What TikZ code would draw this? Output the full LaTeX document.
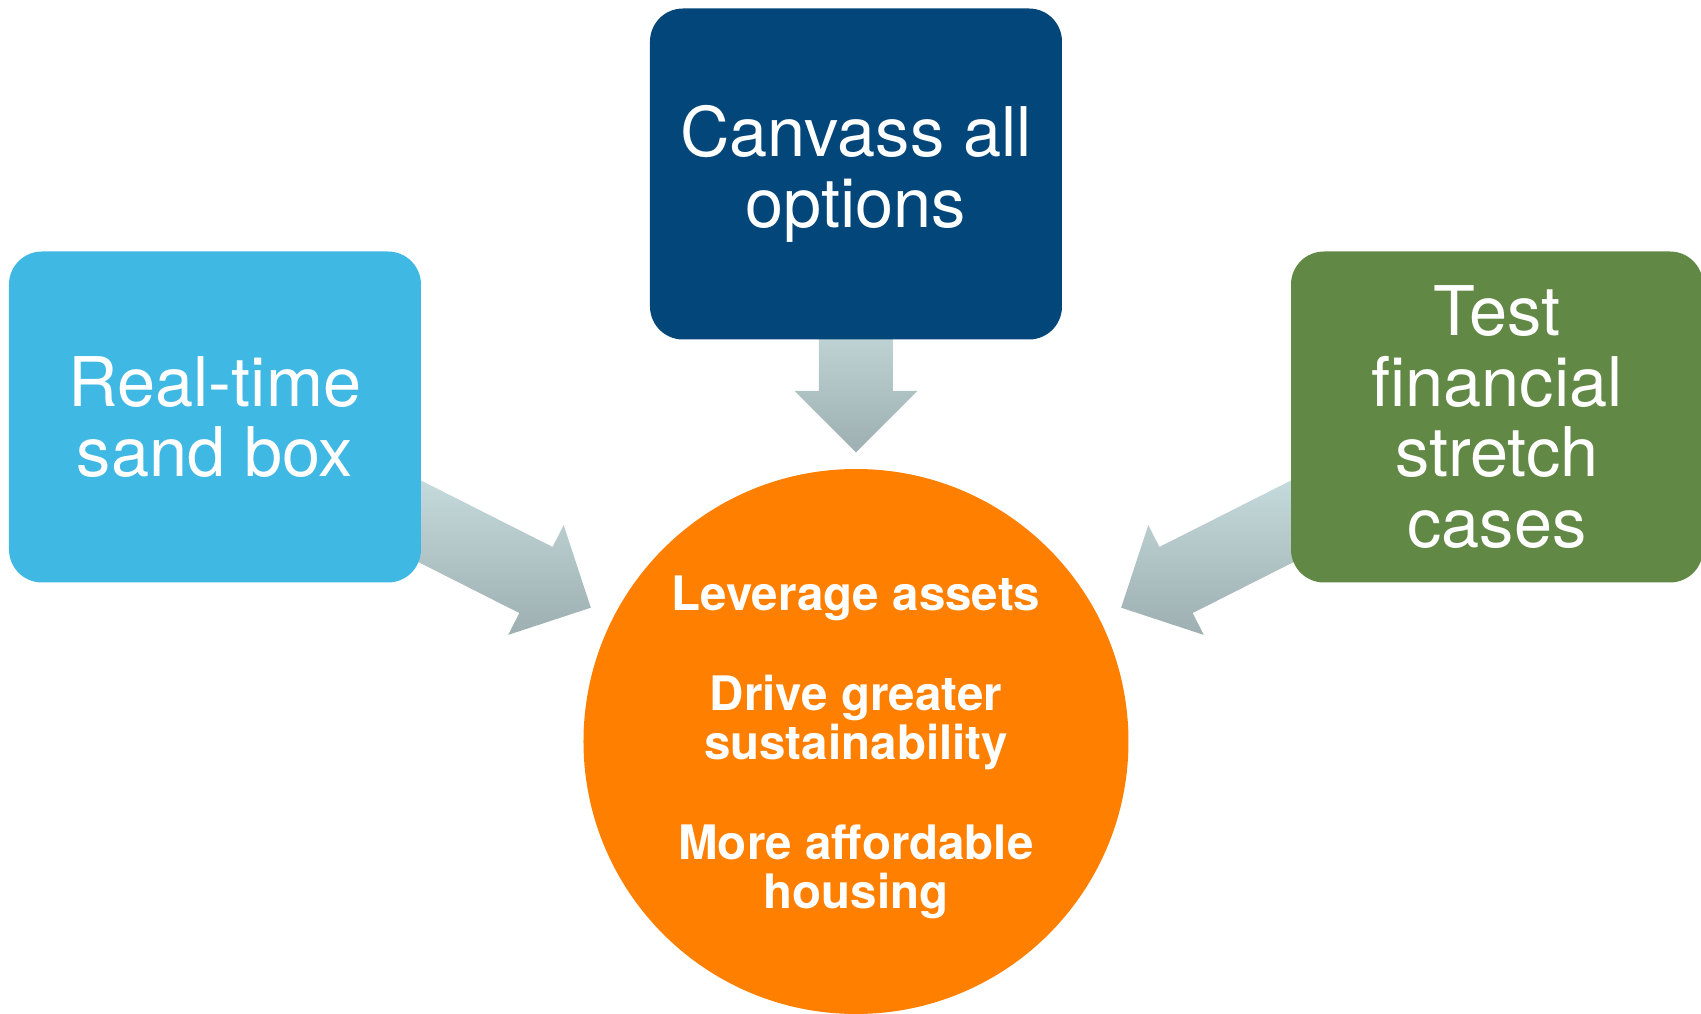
\documentclass[tikz,border=0pt]{standalone}
\usepackage{fontspec}
\setmainfont{TeX Gyre Heros}
\usepackage{xcolor}
\usetikzlibrary{calc,backgrounds}

\definecolor{skyblue}{RGB}{64,184,228}
\definecolor{navyblue}{RGB}{2,70,122}
\definecolor{leafgreen}{RGB}{98,136,69}
\definecolor{goalorange}{RGB}{255,128,0}
\definecolor{arrowtop}{RGB}{198,219,221}
\definecolor{arrowbot}{RGB}{157,175,176}

% fat shaded arrow: start point, target node, distance of the tip from the target centre
\newcommand{\fatarrow}[3]{%
  \coordinate (st) at ($#1!-30pt!(#2)$);
  \coordinate (tip) at ($(#2)!#3!(st)$);
  \coordinate (hb) at ($(tip)!61.5pt!(st)$);
  \shade[arrowfill] ($(hb)!61.5pt!90:(st)$) -- ($(hb)!37pt!90:(st)$)
    -- ($(st)!37pt!-90:(hb)$) -- ($(st)!37pt!90:(hb)$)
    -- ($(hb)!37pt!-90:(st)$) -- ($(hb)!61.5pt!-90:(st)$) -- (tip) -- cycle;
}

\begin{document}
\begin{tikzpicture}[x=1pt,y=1pt,
    box/.style={rectangle,rounded corners=33pt,minimum width=412pt,minimum height=331pt,
      inner sep=0pt,text=white,align=center,font=\fontsize{68.5}{70.5}\selectfont},
    goal/.style={circle,fill=goalorange,minimum size=545pt,inner sep=0pt,text=white,
      align=center,font=\bfseries\fontsize{47.5}{49}\selectfont},
    arrowfill/.style={top color=arrowtop,bottom color=arrowbot}]
  \useasboundingbox (-856,-272.5) rectangle (845,741.5);

  \node[goal]                (goals) at (0,0)        {\rule{0pt}{46pt}Leverage assets\\[51pt]
                                                      Drive greater\\sustainability\\[51pt]
                                                      More affordable\\housing};
  \node[box,fill=navyblue]   (opt)   at (0,567.5)    {Canvass all\\options};
  \node[box,fill=skyblue]    (sand)  at (-641,324.5) {Real-time\\sand box};
  \node[box,fill=leafgreen]  (test)  at (641,324.5)  {Test\\financial\\stretch\\cases};

  % arrows go behind the boxes
  \begin{scope}[on background layer]
    \fatarrow{(opt.south)}{goals}{289pt}
    \fatarrow{(sand.-27)}{goals}{297pt}
    \fatarrow{(test.-153)}{goals}{297pt}
  \end{scope}
\end{tikzpicture}
\end{document}
